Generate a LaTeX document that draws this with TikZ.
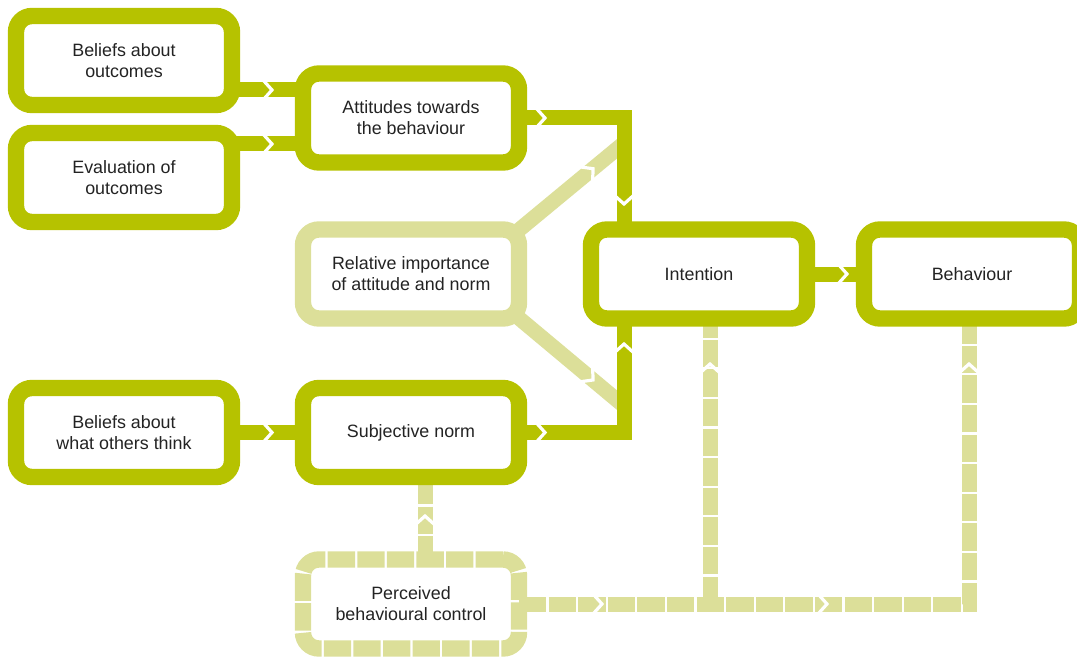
\documentclass[tikz,border=0pt]{standalone}
\usepackage{fontspec}
\setmainfont{Liberation Sans}
\usetikzlibrary{backgrounds}

\definecolor{lime}{RGB}{182,194,0}
\definecolor{pale}{RGB}{220,223,153}
\definecolor{ink}{RGB}{35,35,35}

\tikzset{
  box/.style={draw=lime, line width=12.3pt, rounded corners=12pt,
    minimum width=162pt, minimum height=66.75pt, inner sep=0pt, outer sep=0pt,
    align=center, text=ink, font=\fontsize{13.4}{15.8}\selectfont},
  palebox/.style={box, draw=pale},
  dashbox/.style={box, draw=pale, dash pattern=on 20.5pt off 1.7pt},
  link/.style={draw=lime, line width=11.25pt},
  palelink/.style={draw=pale, line width=11.25pt},
  dashlink/.style={palelink, dash pattern=on 20.5pt off 1.7pt},
  chev/.pic={\draw[white, line width=2.4pt, line join=miter] (-5,-10) -- (4,0) -- (-5,10);}
}

\begin{document}
\begin{tikzpicture}[x=0.75pt,y=-0.75pt]

\useasboundingbox (0,0) rectangle (1077,659);
\clip (0,0) rectangle (1077,659);

% boxes
\node[box] (bao) at (124,60.5) {Beliefs about\\outcomes};
\node[box] (eoo) at (124,177.5) {Evaluation of\\outcomes};
\node[box] (att) at (411,118) {Attitudes towards\\the behaviour};
\node[palebox] (rel) at (411,274) {Relative importance\\of attitude and norm};
\node[box] (int) at (699,274) {Intention};
\node[box] (beh) at (972,274) {Behaviour};
\node[box] (bow) at (124,432.5) {Beliefs about\\what others think};
\node[box] (sub) at (411,432.5) {Subjective norm};
\node[dashbox] (pbc) at (411,604) {Perceived\\behavioural control};

% junction points
\coordinate (a1) at (268,90);
\coordinate (a2) at (268,144);
\coordinate (j1) at (624,118);
\coordinate (j2) at (624,432.5);
\coordinate (d1) at (624,143);
\coordinate (d2) at (624,406);
\coordinate (p0) at (425,520);
\coordinate (p1) at (969,604);
\coordinate (p2) at (710,604);

\begin{scope}[on background layer]
% weighting of attitude and norm
\draw[palelink] ([shift={(-8,7)}]rel.north east) -- (d1);
\draw[palelink] ([shift={(-8,-7)}]rel.south east) -- (d2);

% perceived control links
\draw[dashlink] (p0 |- sub.south) -- (p0 |- pbc.north);
\draw[dashlink] (pbc.east) -- (p1) -- (p1 |- beh.south);
\draw[dashlink] (p2) -- (p2 |- int.south);

% main links
\draw[link] (a1 -| bao.east) -- (a1 -| att.west);
\draw[link] (a2 -| eoo.east) -- (a2 -| att.west);
\draw[link] (att.east) -- (j1) -- (j1 |- int.north);
\draw[link] (sub.east) -- (j2) -- (j2 |- int.south);
\draw[link] (bow.east) -- (sub.west);
\draw[link] (int.east) -- (beh.west);
\end{scope}

% arrow notches
\pic at (268,90) {chev};
\pic at (268,144) {chev};
\pic at (541,118) {chev};
\pic at (541,432.5) {chev};
\pic at (268,432.5) {chev};
\pic at (843,274) {chev};
\pic[rotate=-90] at (624,200) {chev};
\pic[rotate=90] at (624,348) {chev};
\pic[rotate=40] at (590,171.3) {chev};
\pic[rotate=-40] at (590,377.4) {chev};
\pic[rotate=90] at (425,520) {chev};
\pic at (598,604) {chev};
\pic at (823,604) {chev};
\pic[rotate=90] at (710,368) {chev};
\pic[rotate=90] at (969,368) {chev};

\end{tikzpicture}
\end{document}
